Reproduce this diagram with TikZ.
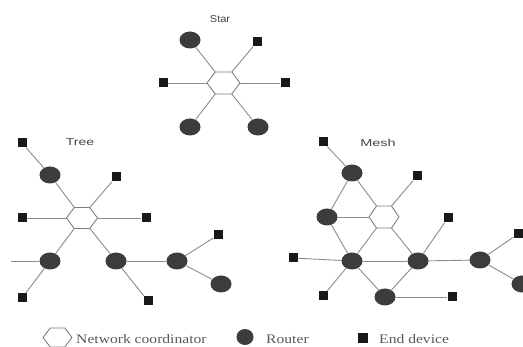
\documentclass[tikz,border=0pt]{standalone}
\usepackage{fontspec}
\setmainfont{Liberation Serif}
\newfontfamily\labelsans{Liberation Sans}
\usetikzlibrary{shapes.geometric}

\definecolor{linkgray}{HTML}{8C8C8C}
\definecolor{routerfill}{HTML}{3C3C3C}
\definecolor{titlegray}{HTML}{444444}

\tikzset{
  link/.style={draw=linkgray, line width=0.9pt},
  router/.style={ellipse, fill=routerfill, minimum width=21pt, minimum height=17pt, inner sep=0pt},
  enddev/.style={rectangle, fill=black!90, minimum size=9pt, inner sep=0pt},
  hexcore/.style={inner sep=0pt, minimum width=1pt, minimum height=1pt},
  hexline/.style={draw=linkgray!90!black, line width=0.9pt, fill=white, line join=round},
  title/.style={font=\labelsans\fontsize{10}{11}\selectfont, text=titlegray, inner sep=0pt},
  legendtext/.style={font=\fontsize{13}{14}\selectfont, text=black!65, inner sep=0pt, anchor=base west, xscale=1.2},
}

% coordinator hexagon: name, x, y, half width, half height
\newcommand\hexnode[5]{%
  \node[hexcore] (#1) at (#2,#3) {};
  \coordinate (#1-l)  at ({#2-#4},#3);
  \coordinate (#1-r)  at ({#2+#4},#3);
  \coordinate (#1-tl) at ({#2-#4/2},{#3-#5});
  \coordinate (#1-tr) at ({#2+#4/2},{#3-#5});
  \coordinate (#1-bl) at ({#2-#4/2},{#3+#5});
  \coordinate (#1-br) at ({#2+#4/2},{#3+#5});
  \draw[hexline] (#1-l) -- (#1-tl) -- (#1-tr) -- (#1-r) -- (#1-br) -- (#1-bl) -- cycle;
}

\begin{document}
\begin{tikzpicture}[x=1pt, y=-1pt]
\useasboundingbox (0,0) rectangle (523,347);

% ---------------- Star ----------------
\node[title, xscale=1.1] (tStar) at (220,19) {Star};
\hexnode{S}{223.5}{83}{16.5}{11}
\node[router] (s1) at (190,40) {};
\node[enddev] (s2) at (257,42) {};
\node[enddev] (s3) at (163,83) {};
\node[enddev] (s4) at (285,83) {};
\node[router] (s5) at (190,127) {};
\node[router] (s6) at (258,127) {};
\draw[link] (s1) -- (S-tl);
\draw[link] (s2) -- (S-tr);
\draw[link] (s3) -- (S-l);
\draw[link] (s4) -- (S-r);
\draw[link] (s5) -- (S-bl);
\draw[link] (s6) -- (S-br);

% ---------------- Tree ----------------
\node[title, xscale=1.4] (tTree) at (80,142.5) {Tree};
\hexnode{T}{82}{218}{15.5}{10.5}
\node[enddev] (t1)  at (22,143) {};
\node[router] (t2)  at (50,175) {};
\node[enddev] (t3)  at (116,177) {};
\node[enddev] (t4)  at (22,218) {};
\node[enddev] (t5)  at (146,218) {};
\node[router] (t6)  at (50,261) {};
\node[router] (t7)  at (116,261) {};
\node[router] (t8)  at (177,261) {};
\node[enddev] (t9)  at (218,235) {};
\node[router] (t10) at (221,284) {};
\node[enddev] (t11) at (22,298) {};
\node[enddev] (t12) at (148,301) {};
\coordinate (tin) at (11,261);
\draw[link] (t1) -- (t2);
\draw[link] (t2) -- (T-tl);
\draw[link] (t3) -- (T-tr);
\draw[link] (t4) -- (T-l);
\draw[link] (T-r) -- (t5);
\draw[link] (T-bl) -- (t6);
\draw[link] (T-br) -- (t7);
\draw[link] (tin) -- (t6);
\draw[link] (t6) -- (t11);
\draw[link] (t7) -- (t12);
\draw[link] (t7) -- (t8);
\draw[link] (t8) -- (t9);
\draw[link] (t8) -- (t10);

% ---------------- Mesh ----------------
\node[title, xscale=1.45] (tMesh) at (378,143) {Mesh};
\hexnode{M}{384}{217}{15}{11}
\node[enddev] (m1)  at (323,142) {};
\node[router] (m2)  at (352,173) {};
\node[enddev] (m3)  at (417,176) {};
\node[router] (m4)  at (327,217) {};
\node[enddev] (m5)  at (448,218) {};
\node[enddev] (m6)  at (293,258) {};
\node[router] (m7)  at (352,261) {};
\node[router] (m8)  at (418,261) {};
\node[router] (m9)  at (480,260) {};
\node[enddev] (m10) at (518,234) {};
\node[router] (m11) at (522,284) {};
\node[enddev] (m12) at (323,296) {};
\node[router] (m13) at (385,297) {};
\node[enddev] (m14) at (452,297) {};
\draw[link] (m1) -- (m2);
\draw[link] (m2) -- (m4);
\draw[link] (m2) -- (M-tl);
\draw[link] (m3) -- (M-tr);
\draw[link] (m4) -- (M-l);
\draw[link] (m4) -- (m7);
\draw[link] (M-bl) -- (m7);
\draw[link] (M-br) -- (m8);
\draw[link] (m5) -- (m8);
\draw[link] (m6) -- (m7);
\draw[link] (m7) -- (m8);
\draw[link] (m8) -- (m9);
\draw[link] (m9) -- (m10);
\draw[link] (m9) -- (m11);
\draw[link] (m7) -- (m12);
\draw[link] (m7) -- (m13);
\draw[link] (m8) -- (m13);
\draw[link] (m13) -- (m14);

% ---------------- Legend ----------------
\hexnode{L}{57.5}{337.5}{14.5}{9.5}
\node[legendtext] (lcoord) at (76,344) {Network coordinator};
\node[router, minimum width=17pt, minimum height=16pt] (lrouter) at (245,337) {};
\node[legendtext] (lroutertxt) at (266,344) {Router};
\node[enddev, minimum size=10pt] (lend) at (363,338) {};
\node[legendtext] (lendtxt) at (379,344) {End device};
\end{tikzpicture}
\end{document}
